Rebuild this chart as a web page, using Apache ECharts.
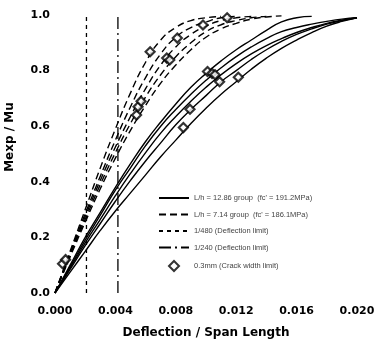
<!DOCTYPE html>
<html><head><meta charset="utf-8">
<script src="https://cdn.jsdelivr.net/npm/echarts@6/dist/echarts.min.js"></script>
<style>html,body{margin:0;padding:0;background:#fff}#c{width:379px;height:341px}</style>
</head><body><div id="c"></div>
<script>
// ---- names ----
const nameSolid = "L/h = 12.86 group  (fc' = 191.2MPa)";
const nameDash = "L/h = 7.14 group  (fc' = 186.1MPa)";
const name480 = "1/480 (Deflection limit)";
const name240 = "1/240 (Deflection limit)";
const nameCrack = "0.3mm (Crack width limit)";

// ---- tick labels ----
const xTickLabels = ['0.000', '0.004', '0.008', '0.012', '0.016', '0.020'];
const yTickLabels = ['0.0', '0.2', '0.4', '0.6', '0.8', '1.0'];

// ---- L/h = 12.86 group (solid) ----
const solid1 = [[0,0],[0.001,0.1],[0.002,0.2],[0.003,0.29],[0.004,0.38],[0.005,0.465],[0.006,0.545],[0.007,0.615],[0.008,0.68],[0.009,0.74],[0.010,0.79],[0.011,0.835],[0.012,0.875],[0.013,0.91],[0.014,0.945],[0.015,0.975],[0.016,0.99],[0.017,0.995]];
const solid2 = [[0,0],[0.001,0.095],[0.002,0.19],[0.003,0.28],[0.004,0.37],[0.005,0.45],[0.006,0.53],[0.007,0.6],[0.008,0.66],[0.009,0.715],[0.010,0.765],[0.011,0.81],[0.012,0.85],[0.013,0.885],[0.014,0.915],[0.015,0.94],[0.016,0.955],[0.017,0.967],[0.018,0.977],[0.019,0.985],[0.020,0.99]];
const solid3 = [[0,0],[0.001,0.09],[0.002,0.18],[0.003,0.265],[0.004,0.35],[0.005,0.43],[0.006,0.505],[0.007,0.575],[0.008,0.635],[0.009,0.69],[0.010,0.74],[0.011,0.785],[0.012,0.825],[0.013,0.86],[0.014,0.89],[0.015,0.915],[0.016,0.937],[0.017,0.955],[0.018,0.97],[0.019,0.981],[0.020,0.99]];
const solid4 = [[0,0],[0.001,0.085],[0.002,0.17],[0.003,0.25],[0.004,0.33],[0.005,0.405],[0.006,0.475],[0.007,0.54],[0.008,0.605],[0.009,0.66],[0.010,0.71],[0.011,0.76],[0.012,0.8],[0.013,0.84],[0.014,0.875],[0.015,0.905],[0.016,0.93],[0.017,0.95],[0.018,0.967],[0.019,0.98],[0.020,0.99]];
const solid5 = [[0,0],[0.001,0.075],[0.002,0.15],[0.003,0.225],[0.004,0.295],[0.005,0.36],[0.006,0.425],[0.007,0.49],[0.008,0.55],[0.009,0.61],[0.010,0.665],[0.011,0.715],[0.012,0.76],[0.013,0.805],[0.014,0.845],[0.015,0.88],[0.016,0.91],[0.017,0.937],[0.018,0.96],[0.019,0.977],[0.020,0.99]];

// ---- L/h = 7.14 group (dashed) ----
const dash1 = [[0,0],[0.001,0.15],[0.002,0.3],[0.003,0.45],[0.004,0.59],[0.005,0.72],[0.006,0.83],[0.007,0.91],[0.008,0.955],[0.009,0.98],[0.010,0.99],[0.011,0.995]];
const dash2 = [[0,0],[0.001,0.145],[0.002,0.285],[0.003,0.42],[0.004,0.55],[0.005,0.67],[0.006,0.775],[0.007,0.86],[0.008,0.92],[0.009,0.955],[0.010,0.975],[0.011,0.99],[0.012,0.995]];
const dash3 = [[0,0],[0.001,0.14],[0.002,0.275],[0.003,0.405],[0.004,0.525],[0.005,0.635],[0.006,0.735],[0.007,0.82],[0.008,0.885],[0.009,0.93],[0.010,0.96],[0.011,0.98],[0.012,0.99],[0.013,0.995]];
const dash4 = [[0,0],[0.001,0.135],[0.002,0.265],[0.003,0.39],[0.004,0.505],[0.005,0.61],[0.006,0.705],[0.007,0.785],[0.008,0.85],[0.009,0.9],[0.010,0.94],[0.011,0.965],[0.012,0.98],[0.013,0.99],[0.014,0.995]];
const dash5 = [[0,0],[0.001,0.13],[0.002,0.255],[0.003,0.375],[0.004,0.485],[0.005,0.585],[0.006,0.675],[0.007,0.755],[0.008,0.82],[0.009,0.875],[0.010,0.92],[0.011,0.95],[0.012,0.97],[0.013,0.985],[0.014,0.993],[0.015,0.997]];

// ---- deflection limits ----
const limit480 = [[1/480, 0], [1/480, 1.0]];
const limit240 = [[1/240, 0], [1/240, 1.0]];

// ---- crack width limit points ----
const crackPoints = [[0.0101,0.797],[0.0104,0.79],[0.0106,0.785],[0.0109,0.76],[0.01214,0.776],[0.00894,0.661],[0.0085,0.595],
  [0.0054,0.64],[0.0055,0.67],[0.0057,0.69],[0.0063,0.868],[0.0074,0.845],[0.0076,0.838],[0.0081,0.917],[0.0098,0.964],[0.0114,0.99],
  [0.0005,0.105],[0.0007,0.12]];

const solidCurves = [solid1, solid2, solid3, solid4, solid5];
const dashCurves = [dash1, dash2, dash3, dash4, dash5];

const hidden = { color: '#000', opacity: 0 };
const series = [];
solidCurves.forEach(d => series.push({
  name: nameSolid, type: 'line', data: d, smooth: true, symbol: 'none',
  lineStyle: { color: '#000', width: 1.4, type: 'solid' }, itemStyle: hidden
}));
dashCurves.forEach(d => series.push({
  name: nameDash, type: 'line', data: d, smooth: true, symbol: 'none',
  lineStyle: { color: '#000', width: 1.4, type: [7, 4] }, itemStyle: hidden
}));
series.push({ name: name480, type: 'line', data: limit480, symbol: 'none',
  lineStyle: { color: '#000', width: 1.3, type: [4, 4] }, itemStyle: hidden });
series.push({ name: name240, type: 'line', data: limit240, symbol: 'none',
  lineStyle: { color: '#000', width: 1.3, type: [12, 4, 2, 4] }, itemStyle: hidden });
series.push({ name: nameCrack, type: 'scatter', data: crackPoints, symbol: 'diamond', symbolSize: 9,
  itemStyle: { color: '#fff', borderColor: '#000', borderWidth: 2.2 }, z: 5 });

const chart = echarts.init(document.getElementById('c'), null, { renderer: 'canvas' });
chart.setOption({
  animation: false,
  backgroundColor: '#fff',
  grid: { left: 55, right: 22, top: 15, bottom: 48, outerBoundsMode: 'none', containLabel: false },
  xAxis: {
    type: 'value', min: 0, max: 0.02, interval: 0.004,
    name: 'Deflection / Span Length', nameLocation: 'middle', nameGap: 34,
    nameTextStyle: { fontFamily: 'DejaVu Sans', fontWeight: 'bold', fontSize: 12, color: '#000' },
    axisLine: { show: false }, axisTick: { show: false }, splitLine: { show: false },
    axisLabel: { margin: 13, fontFamily: 'DejaVu Sans', fontWeight: 'bold', fontSize: 11, color: '#000',
      formatter: v => xTickLabels[Math.round(v / 0.004)] }
  },
  yAxis: {
    type: 'value', min: 0, max: 1, interval: 0.2,
    name: 'Mexp / Mu', nameLocation: 'middle', nameGap: 39,
    nameTextStyle: { fontFamily: 'DejaVu Sans', fontWeight: 'bold', fontSize: 12, color: '#000', padding: [0, 0, 0, 34] },
    axisLine: { show: false }, axisTick: { show: false }, splitLine: { show: false },
    axisLabel: { margin: 5, fontFamily: 'DejaVu Sans', fontWeight: 'bold', fontSize: 11, color: '#000',
      formatter: v => yTickLabels[Math.round(v / 0.2)] }
  },
  legend: {
    data: [nameSolid, nameDash, name480, name240,
      { name: nameCrack, icon: 'path://M5,0L10,5L5,10L0,5Z' }],
    orient: 'vertical', left: 153, top: 189, itemWidth: 30, itemHeight: 10, itemGap: 8.5,
    textStyle: { fontFamily: 'Liberation Sans', fontSize: 7.5, color: '#444' }
  },
  series: series
});
</script></body></html>
